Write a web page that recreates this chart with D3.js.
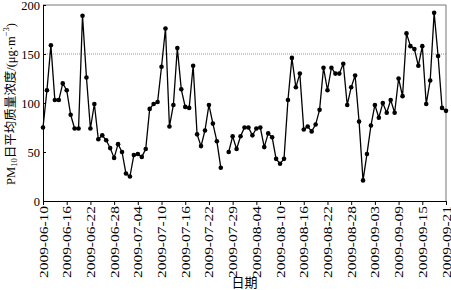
<!DOCTYPE html>
<html>
<head>
<meta charset="utf-8">
<script src="https://cdn.jsdelivr.net/npm/d3@7"></script>
<style>
  body { margin: 0; background: #fff; }
  svg { display: block; }
</style>
</head>
<body>
<div id="chart"></div>
<script>
// daily PM10, one value per position on the category axis (null = no data)
var pm10 = [75,113,159,103,103,120,113,88,74,74,
  189,126,74,99,63,67,62,54,44,58,
  50,28,25,47,48,45,53,94,99,101,
  137,176,76,98,156,114,96,95,138,68,
  56,72,98,79,61,34,null,50,66,53,
  66,75,75,67,74,75,55,69,65,43,
  38,43,103,146,116,130,73,76,71,78,
  93,136,113,136,130,130,140,98,116,128,
  81,21,48,77,98,85,100,90,103,90,
  125,107,171,158,155,138,158,99,123,192,
  148,95,92];

var dateTicks = ["2009-06-10","2009-06-16","2009-06-22","2009-06-28","2009-07-04",
  "2009-07-10","2009-07-16","2009-07-22","2009-07-29","2009-08-04","2009-08-10",
  "2009-08-16","2009-08-22","2009-08-28","2009-09-03","2009-09-09","2009-09-15","2009-09-21"];
var tickEvery = 6;

var yTicks = [0, 50, 100, 150, 200];
var refLine = 150;

var width = 451, height = 290;
var margin = {top: 5, right: 5, bottom: 89, left: 43};
var serif = "'Liberation Serif', 'Times New Roman', 'Noto Sans CJK SC', serif";

var x = d3.scaleLinear()
	.domain([0, pm10.length - 1])
	.range([margin.left, width - margin.right]);

var y = d3.scaleLinear()
	.domain([0, 200])
	.range([height - margin.bottom, margin.top]);

var svg = d3.select("#chart").append("svg")
	.attr("width", width)
	.attr("height", height)
	.attr("font-family", serif);

// dotted reference line at 150
svg.append("line")
	.attr("x1", x(0)).attr("x2", x(pm10.length - 1))
	.attr("y1", y(refLine)).attr("y2", y(refLine))
	.attr("stroke", "#999")
	.attr("stroke-width", 1)
	.attr("stroke-dasharray", "1,1");

// frame, top and right sides
svg.append("path")
	.attr("d", `M${x(0)},${y(200)}H${x(pm10.length - 1)}V${y(0)}`)
	.attr("fill", "none")
	.attr("stroke", "#777")
	.attr("stroke-width", 1);

var xAxis = svg.append("g")
	.attr("transform", `translate(0,${y(0)})`)
	.call(d3.axisBottom(x)
		.tickValues(d3.range(0, pm10.length, tickEvery))
		.tickFormat((d, i) => dateTicks[i])
		.tickSizeOuter(0)
		.tickSize(4))
	.attr("font-family", serif);
xAxis.select(".domain").attr("stroke", "#000");
xAxis.selectAll("text")
	.attr("font-size", 11.5)
	.attr("fill", "#000")
	.attr("text-anchor", "end")
	.attr("dominant-baseline", "central")
	.attr("dy", null)
	.attr("y", 0)
	.attr("x", -5)
	.attr("textLength", 72)
	.attr("lengthAdjust", "spacingAndGlyphs")
	.attr("transform", "rotate(-90)");

var yAxis = svg.append("g")
	.attr("transform", `translate(${x(0)},0)`)
	.call(d3.axisLeft(y)
		.tickValues(yTicks)
		.tickSizeInner(-3)
		.tickSizeOuter(0)
		.tickPadding(3))
	.attr("font-family", serif);
yAxis.select(".domain").attr("stroke", "#000");
yAxis.selectAll("text").attr("font-size", 12.5).attr("fill", "#000");

// line with a break where data is missing
var line = d3.line()
	.defined(d => d != null)
	.x((d, i) => x(i))
	.y(d => y(d));

svg.append("path")
	.datum(pm10)
	.attr("fill", "none")
	.attr("stroke", "#000")
	.attr("stroke-width", 1.3)
	.attr("d", line);

svg.append("g")
	.selectAll("circle")
	.data(pm10.map((v, i) => ({v: v, i: i})).filter(d => d.v != null))
	.join("circle")
		.attr("cx", d => x(d.i))
		.attr("cy", d => y(d.v))
		.attr("r", 2.3)
		.attr("fill", "#000");

// axis titles
var yTitle = svg.append("text")
	.attr("transform", `translate(11,${(y(0) + y(200)) / 2 + 1}) rotate(-90)`)
	.attr("text-anchor", "middle")
	.attr("dominant-baseline", "central")
	.attr("font-size", 12.5)
	.attr("fill", "#000");
yTitle.append("tspan").text("PM");
yTitle.append("tspan").attr("font-size", 8.5).attr("dy", 3).text("10");
yTitle.append("tspan").attr("dy", -3).text("日平均质量浓度/(μg·m");
yTitle.append("tspan").attr("font-size", 8.5).attr("dy", -5).text("−3");
yTitle.append("tspan").attr("dy", 5).text(")");

svg.append("text")
	.attr("x", (x(0) + x(pm10.length - 1)) / 2)
	.attr("y", 287)
	.attr("text-anchor", "middle")
	.attr("font-size", 13)
	.attr("fill", "#000")
	.text("日期");
</script>
</body>
</html>
